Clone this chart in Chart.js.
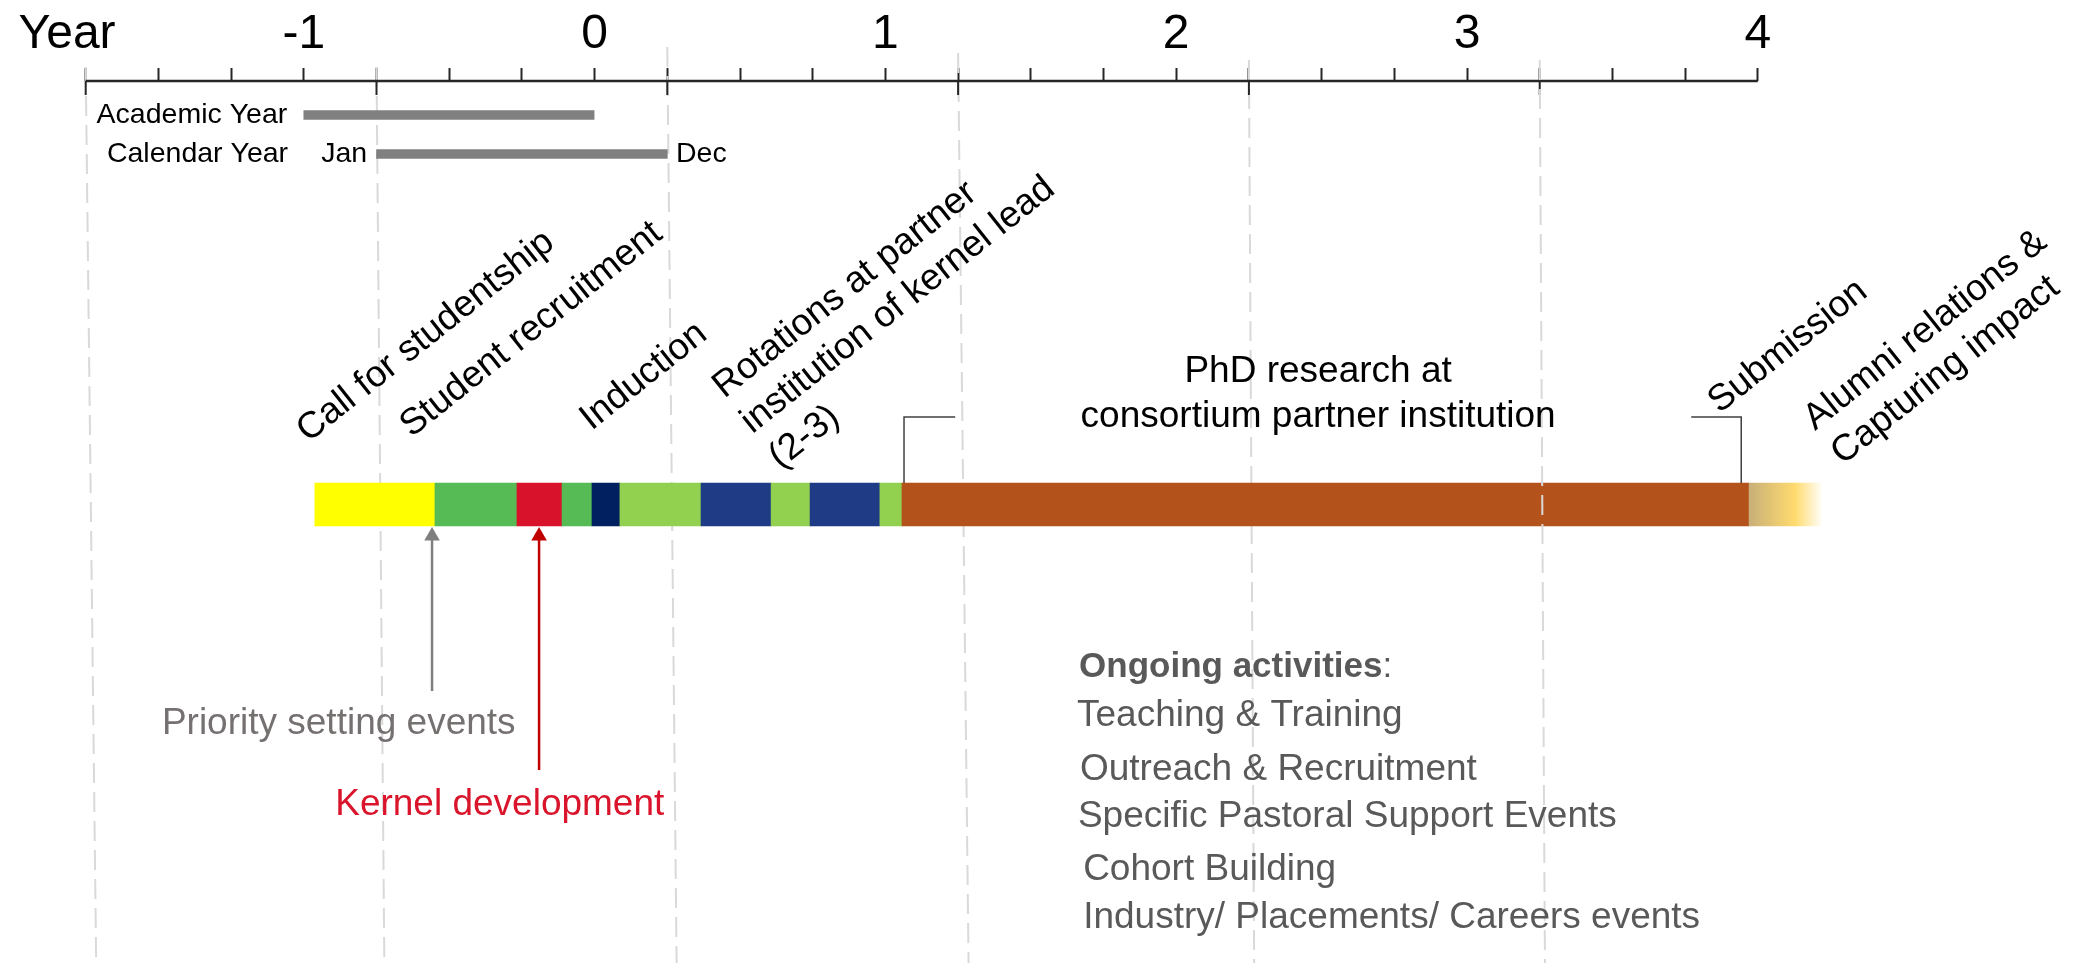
<!DOCTYPE html>
<html>
<head>
<meta charset="utf-8">
<title>Studentship timeline</title>
<script src="https://cdn.jsdelivr.net/npm/chart.js@4.4.1/dist/chart.umd.min.js"></script>
<style>
  html, body { margin: 0; padding: 0; background: #fff; }
  #wrap { position: relative; width: 2087px; height: 963px; }
</style>
</head>
<body>
<div id="wrap"><canvas id="timeline"></canvas></div>
<script>
(function () {
  'use strict';

  var FONT = "'Liberation Sans', Arial, sans-serif";

  // ---- Time axis (years, 0 = start of PhD) ---------------------
  var quarterTicks = [-1.75, -1.5, -1.25, -1, -0.75, -0.5, -0.25, 0, 0.25, 0.5, 0.75, 1,
    1.25, 1.5, 1.75, 2, 2.25, 2.5, 2.75, 3, 3.25, 3.5, 3.75, 4];
  var yearTicks = [-1, 0, 1, 2, 3, 4];
  var yearLabels = ['-1', '0', '1', '2', '3', '4'];
  var axisTitlePos = -1.814;
  var axisTitle = 'Year';

  // ---- Dashed guides (slightly slanted in the original) --------
  var guideYear = [-1.75, -0.75, 0.25, 1.25, 2.25, 3.25];
  var guideDrift = [0.036, 0.027, 0.032, 0.036, 0.018, 0.018];
  var guideTop = [67, 67, 47, 53, 60, 60];
  var guideFront = [false, false, false, false, false, true];

  // ---- Academic / calendar year reference bars -----------------
  var refStart = [-1, -0.75];
  var refEnd = [0, 0.25];

  // ---- Main timeline segments ----------------------------------
  var segStart = [-0.962, -0.549, -0.267, -0.112, -0.009, 0.087, 0.366, 0.607, 0.741, 0.981, 1.057, 3.970];
  var segEnd = [-0.549, -0.267, -0.112, -0.009, 0.087, 0.366, 0.607, 0.741, 0.981, 1.057, 3.970, 4.224];
  var segColors = ['#ffff00', '#56bb55', '#d7122a', '#56bb55', '#00205f', '#92d050',
    '#1f3b85', '#92d050', '#1f3b85', '#92d050', '#b4521c', 'fade'];

  // ---- Arrows under the bar ------------------------------------
  var arrowYear = [-0.559, -0.191];
  var arrowFoot = [691, 770];
  var arrowColors = ['#7f7f7f', '#c00000'];

  // ---- PhD research callout bracket ----------------------------
  var calloutOuter = [1.240, 3.771];
  var calloutInner = [1.064, 3.943];

  // ---- Vertical layout rows ------------------------------------
  var AXIS_ROW = 81, TICK_DROP = 95, ACAD_ROW = 115, CAL_ROW = 154;
  var BAR_ROW = 504.5, BAR_TOP = 483, CALLOUT_ROW = 417, ARROW_HEAD = 536, BOTTOM_ROW = 963;

  // ---- Text annotations ----------------------------------------
  var SLANT = -38.5;
  var notes = [
    { lines: ['Academic Year'], x: -1.057, y: ACAD_ROW, size: 28.5, align: 'right', base: 'middle' },
    { lines: ['Calendar Year'], x: -1.054, y: CAL_ROW, size: 28.5, align: 'right', base: 'middle' },
    { lines: ['Jan'], x: -0.782, y: CAL_ROW, size: 28.5, align: 'right', base: 'middle' },
    { lines: ['Dec'], x: 0.28, y: CAL_ROW, size: 28.5, base: 'middle' },
    { lines: ['Call for studentship'], x: -0.985, y: 443, size: 37, rot: SLANT },
    { lines: ['Student recruitment'], x: -0.630, y: 438, size: 37, rot: SLANT },
    { lines: ['Induction'], x: -0.011, y: 431, size: 37, rot: SLANT },
    { lines: ['Rotations at partner', 'institution of kernel lead', '(2-3)'], x: 0.446, y: 399, size: 37, rot: SLANT, lead: 45 },
    { lines: ['PhD research at', 'consortium partner institution'], x: 2.488, y: 382, size: 37, align: 'center', lead: 45 },
    { lines: ['Submission'], x: 3.868, y: 414, size: 37, rot: SLANT },
    { lines: ['Alumni relations &', 'Capturing impact'], x: 4.197, y: 431, size: 37, rot: SLANT, lead: 44 },
    { lines: ['Priority setting events'], x: -1.488, y: 734, size: 37, color: '#767171' },
    { lines: ['Kernel development'], x: -0.892, y: 815, size: 37, color: '#d9142b' },
    { lines: ['Ongoing activities'], tail: ':', x: 1.666, y: 677, size: 35, bold: true, color: '#595959' },
    { lines: ['Teaching & Training'], x: 1.659, y: 726, size: 37, color: '#595959' },
    { lines: ['Outreach & Recruitment'], x: 1.669, y: 780, size: 37, color: '#595959' },
    { lines: ['Specific Pastoral Support Events'], x: 1.662, y: 827, size: 37, color: '#595959' },
    { lines: ['Cohort Building'], x: 1.680, y: 880, size: 37, color: '#595959' },
    { lines: ['Industry/ Placements/ Careers events'], x: 1.680, y: 928, size: 37, color: '#595959' }
  ];

  // ---- Helpers --------------------------------------------------
  function near(a, b) { return Math.abs(a - b) < 1e-6; }

  function tickLabel(value) {
    if (near(value, axisTitlePos)) return axisTitle;
    for (var i = 0; i < yearTicks.length; i++) {
      if (near(value, yearTicks[i])) return yearLabels[i];
    }
    return '';
  }

  function guideData(front) {
    var pts = [];
    for (var i = 0; i < guideYear.length; i++) {
      if (guideFront[i] !== front) continue;
      pts.push({ x: guideYear[i], y: guideTop[i] });
      pts.push({ x: guideYear[i] + guideDrift[i], y: BOTTOM_ROW });
      pts.push({ x: guideYear[i], y: null });
    }
    return pts;
  }

  function tickDropData() {
    var pts = [];
    for (var i = 0; i < guideYear.length; i++) {
      pts.push({ x: guideYear[i], y: AXIS_ROW });
      pts.push({ x: guideYear[i], y: TICK_DROP });
      pts.push({ x: guideYear[i], y: null });
    }
    return pts;
  }

  function segColor(ctx) {
    var i = ctx.dataIndex;
    if (segColors[i] !== 'fade') return segColors[i];
    var xs = ctx.chart.scales.x;
    if (!xs) return '#e8c670';
    var g = ctx.chart.ctx.createLinearGradient(xs.getPixelForValue(segStart[i]), 0, xs.getPixelForValue(segEnd[i]), 0);
    g.addColorStop(0, '#c9af79');
    g.addColorStop(0.62, '#ffdb6e');
    g.addColorStop(1, '#ffffff');
    return g;
  }

  var datasets = [];

  // dashed guides behind the bar
  datasets.push({
    type: 'line', data: guideData(false), borderColor: '#d9d9d9', borderWidth: 2,
    borderDash: [20, 9], pointRadius: 0, clip: false, order: 20
  });
  // the one guide that runs over the bar
  datasets.push({
    type: 'line', data: guideData(true), borderColor: '#d9d9d9', borderWidth: 2,
    borderDash: [20, 9], pointRadius: 0, clip: false, order: 1
  });
  // axis line + longer ticks at the guides
  datasets.push({
    type: 'line', data: [{ x: quarterTicks[0], y: AXIS_ROW }, { x: quarterTicks[quarterTicks.length - 1], y: AXIS_ROW }],
    borderColor: '#262626', borderWidth: 2.5, pointRadius: 0, clip: false, order: 2
  });
  datasets.push({
    type: 'line', data: tickDropData(), borderColor: '#262626', borderWidth: 2,
    pointRadius: 0, clip: false, order: 2
  });

  // academic / calendar year bars
  datasets.push({
    type: 'bar', indexAxis: 'y', stack: 'tl', barThickness: 9,
    data: refStart.map(function (s, i) { return { x: [s, refEnd[i]], y: i === 0 ? ACAD_ROW : CAL_ROW }; }),
    backgroundColor: '#808080', borderWidth: 0, order: 5
  });

  // main timeline
  datasets.push({
    type: 'bar', indexAxis: 'y', stack: 'tl', barThickness: 43,
    data: segStart.map(function (s, i) { return { x: [s, segEnd[i]], y: BAR_ROW }; }),
    backgroundColor: segColor, borderWidth: 0, order: 5
  });

  // arrows
  arrowYear.forEach(function (a, i) {
    datasets.push({
      type: 'line', data: [{ x: a, y: arrowFoot[i] }, { x: a, y: ARROW_HEAD }],
      borderColor: arrowColors[i], borderWidth: 2.5,
      pointRadius: [0, 9], pointStyle: 'triangle', pointBorderWidth: 0,
      pointBackgroundColor: arrowColors[i], clip: false, order: 3
    });
  });

  // PhD callout brackets
  calloutOuter.forEach(function (o, i) {
    datasets.push({
      type: 'line',
      data: [{ x: o, y: CALLOUT_ROW }, { x: calloutInner[i], y: CALLOUT_ROW }, { x: calloutInner[i], y: BAR_TOP }],
      borderColor: '#404040', borderWidth: 1.5, pointRadius: 0, clip: false, order: 3
    });
  });

  // ---- Annotation text plugin ----------------------------------
  var notePlugin = {
    id: 'notes',
    afterDatasetsDraw: function (chart) {
      var ctx = chart.ctx, xs = chart.scales.x, ys = chart.scales.y;
      notes.forEach(function (n) {
        ctx.save();
        ctx.translate(xs.getPixelForValue(n.x), ys.getPixelForValue(n.y));
        if (n.rot) ctx.rotate(n.rot * Math.PI / 180);
        ctx.font = (n.bold ? 'bold ' : '') + n.size + 'px ' + FONT;
        ctx.fillStyle = n.color || '#000';
        ctx.textAlign = n.align || 'left';
        ctx.textBaseline = n.base || 'alphabetic';
        n.lines.forEach(function (line, i) {
          ctx.fillText(line, 0, i * (n.lead || 0));
        });
        if (n.tail) {
          var w = ctx.measureText(n.lines[0]).width;
          ctx.font = n.size + 'px ' + FONT;
          ctx.fillText(n.tail, w, 0);
        }
        ctx.restore();
      });
    }
  };

  new Chart(document.getElementById('timeline'), {
    type: 'line',
    data: { datasets: datasets },
    plugins: [notePlugin],
    options: {
      responsive: true,
      maintainAspectRatio: false,
      animation: false,
      layout: { padding: 0, autoPadding: false },
      plugins: { legend: { display: false }, tooltip: { enabled: false } },
      scales: {
        x: {
          type: 'linear', position: 'top', bounds: 'data', offset: false,
          min: -2.0447, max: 5.132,
          afterBuildTicks: function (scale) {
            scale.ticks = [axisTitlePos].concat(quarterTicks).map(function (v) { return { value: v }; });
          },
          afterFit: function (scale) { scale.height = AXIS_ROW; },
          border: { display: false },
          grid: {
            offset: false, drawOnChartArea: false, drawTicks: true, tickLength: 13, tickWidth: 2,
            tickColor: function (c) {
              return c.tick && near(c.tick.value, axisTitlePos) ? 'rgba(0,0,0,0)' : '#262626';
            }
          },
          ticks: {
            autoSkip: false, maxRotation: 0, minRotation: 0, padding: 4,
            color: '#000',
            font: { family: FONT, size: 48, lineHeight: 1.2 },
            callback: function (value) { return tickLabel(value); }
          }
        },
        y: {
          type: 'linear', reverse: true, display: false, offset: false,
          grid: { offset: false },
          min: AXIS_ROW, max: BOTTOM_ROW
        }
      }
    }
  });
})();
</script>
</body>
</html>
